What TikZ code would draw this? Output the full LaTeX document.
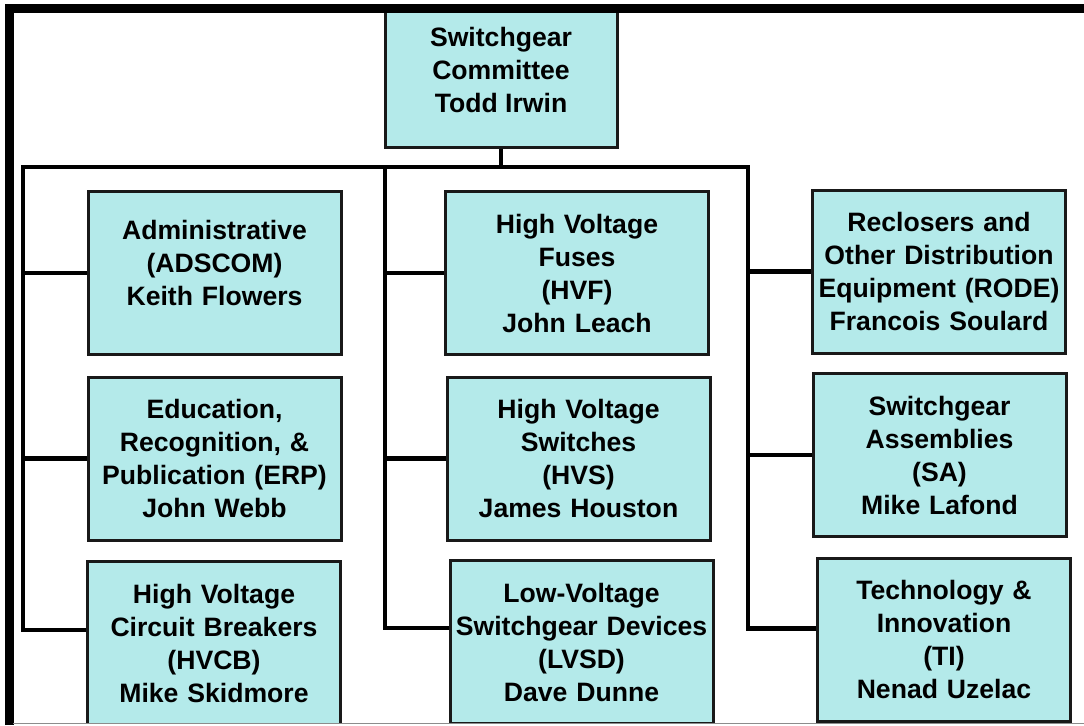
\documentclass[tikz,border=0pt]{standalone}
\usepackage{fontspec}
\setmainfont{Liberation Sans}
\usetikzlibrary{
  positioning,
  calc,         % Calculations $...$
}
\definecolor{unitfill}{HTML}{B4EAEA}
\tikzset{
  font=\bfseries\fontsize{13.3}{16.5}\selectfont,
  unit/.style={
    draw=black!90,
    line width=1.5pt,
    fill=unitfill,
    align=center,
    inner sep=1pt,
    minimum height=81.5pt,
    rectangle
  },
  left unit/.style={
    unit,
    minimum width=126.5pt,
    text width=122pt
  },
  mid unit/.style={
    unit,
    minimum width=131.5pt,
    text width=127pt
  },
  right unit/.style={
    left unit
  },
  link/.style={
    line width=2.2pt
  },
  frame/.style={
    line width=4.5pt
  }
}
\begin{document}
\begin{tikzpicture}[x=0.5pt,y=-0.5pt]
\useasboundingbox (0,0) rectangle (1084,725);
\begin{scope}
\clip (0,12) rectangle (1084,723);
\node[unit,minimum width=116pt,minimum height=77pt] (sgc) at (501,70)
  {Switchgear\\Committee\\Todd Irwin};
% left column
\node[left unit]  (adscom) at (214.5,273)   {Administrative\\(ADSCOM)\\Keith Flowers\\[-6pt]\mbox{}};
\node[left unit]  (erp)    at (214.5,458.5) {Education,\\Recognition, \&\\Publication (ERP)\\John Webb};
\node[left unit]  (hvcb)   at (214,643)     {High Voltage\\Circuit Breakers\\(HVCB)\\Mike Skidmore};
% middle column
\node[mid unit]   (hvf)    at (577,273)     {High Voltage\\Fuses\\(HVF)\\John Leach};
\node[mid unit]   (hvs)    at (578.5,458.5) {High Voltage\\Switches\\(HVS)\\James Houston};
\node[mid unit]   (lvsd)   at (581.5,642)   {Low-Voltage\\Switchgear Devices\\(LVSD)\\Dave Dunne};
% right column
\node[right unit] (rode)   at (939,271.5)   {Reclosers and\\Other Distribution\\Equipment (RODE)\\Francois Soulard};
\node[right unit] (sa)     at (939.5,455)   {Switchgear\\Assemblies\\(SA)\\Mike Lafond};
\node[right unit] (ti)     at (944,639.5)   {Technology \&\\Innovation\\(TI)\\Nenad Uzelac};

\coordinate (busL) at (23,167);
\coordinate (busM) at (385,167);
\coordinate (busR) at (748,167);
\draw[link] (sgc.south) -- (sgc.south |- busM);
\draw[link] ($(hvcb.west)+(0,-13)$) -| (busL) -- (busR) |- ($(ti.west)+(0,-11)$);
\draw[link] (busM) |- ($(lvsd.west)+(0,-14)$);
\path[link,draw]
  (busL |- adscom.west) -- (adscom.west)
  (busL |- erp.west)    -- (erp.west)
  (busM |- hvf.west)    -- (hvf.west)
  (busM |- hvs.west)    -- (hvs.west)
  (busR |- rode.west)   -- (rode.west)
  (busR |- sa.west)     -- (sa.west);
\end{scope}
\draw[frame] (9.5,725) -- (9.5,8.5) -- (1084,8.5);
\draw[black!45,line width=0.7pt] (13,723.5) -- (1084,723.5);
\end{tikzpicture}
\end{document}
